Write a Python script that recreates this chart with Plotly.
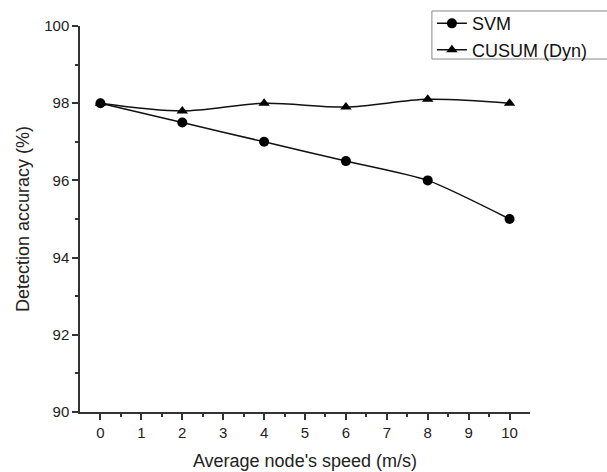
import plotly.graph_objects as go

speed = [0, 2, 4, 6, 8, 10]
svm_acc = [98.0, 97.5, 97.0, 96.5, 96.0, 95.0]
cusum_acc = [98.0, 97.8, 98.0, 97.9, 98.1, 98.0]

x_ticks = list(range(0, 11))
y_ticks = [90, 92, 94, 96, 98, 100]

fig = go.Figure()
fig.add_trace(go.Scatter(
    x=speed, y=svm_acc, name="SVM", mode="lines+markers",
    line=dict(color="#111", width=1.5, shape="spline", smoothing=0.6),
    marker=dict(symbol="circle", size=10, color="black"),
))
fig.add_trace(go.Scatter(
    x=speed, y=cusum_acc, name="CUSUM (Dyn)", mode="lines+markers",
    line=dict(color="#111", width=1.5, shape="spline", smoothing=0.9),
    marker=dict(symbol="triangle-up", size=10, color="black"),
))

# legend frame, running off the right edge of the page
fig.add_shape(
    type="rect", xref="paper", yref="paper",
    x0=0.782, x1=1.25, y0=0.9145, y1=1.0389,
    line=dict(color="#888", width=1), fillcolor="white", layer="above",
)

axis_font = dict(family="Liberation Sans, Arial, sans-serif", size=15, color="#222")
title_font = dict(family="Liberation Sans, Arial, sans-serif", size=18, color="#222")
fig.update_layout(
    width=607, height=472,
    margin=dict(l=80, r=77, t=26, b=60, autoexpand=False),
    paper_bgcolor="white", plot_bgcolor="white",
    font=dict(family="Liberation Sans, Arial, sans-serif", color="#222"),
    showlegend=True,
    legend=dict(
        x=0.782, y=1.054, xanchor="left", yanchor="top",
        borderwidth=0, bgcolor="rgba(0,0,0,0)",
        font=dict(size=18, color="#111"),
        tracegroupgap=0, itemwidth=30,
    ),
    xaxis=dict(
        range=[-0.5, 10.5], tickvals=x_ticks, ticktext=[str(v) for v in x_ticks],
        showline=True, linecolor="#333", linewidth=1.5,
        ticks="outside", ticklen=6, tickcolor="#333", tickwidth=1.5,
        minor=dict(tickvals=[v + 0.5 for v in x_ticks[:-1]], ticks="outside",
                   ticklen=3, tickcolor="#333", tickwidth=1.5),
        showgrid=False, zeroline=False, tickfont=axis_font, automargin=False,
        title=dict(text="Average node's speed (m/s)", font=title_font),
    ),
    yaxis=dict(
        range=[90, 100], tickvals=y_ticks, ticktext=[str(v) for v in y_ticks],
        showline=True, linecolor="#333", linewidth=1.5,
        ticks="outside", ticklen=6, tickcolor="#333", tickwidth=1.5,
        minor=dict(tickvals=[91, 93, 95, 97, 99], ticks="outside",
                   ticklen=3, tickcolor="#333", tickwidth=1.5),
        showgrid=False, zeroline=False, tickfont=axis_font, automargin=False,
        title=dict(text="Detection accuracy (%)", font=title_font, standoff=10),
    ),
)

fig.write_html("out.html")
